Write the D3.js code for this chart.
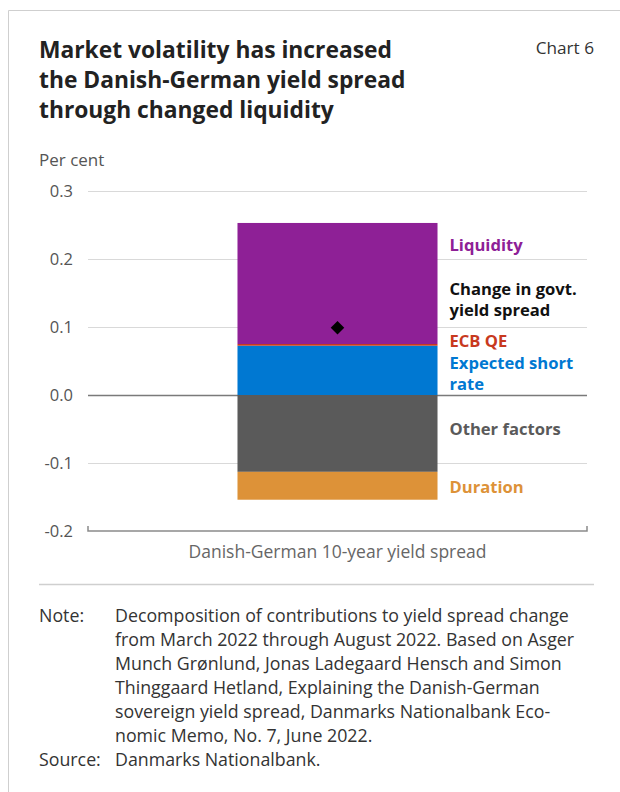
<!DOCTYPE html>
<html>
<head>
<meta charset="utf-8">
<script src="https://cdn.jsdelivr.net/npm/d3@7"></script>
<style>
  html, body { margin: 0; padding: 0; background: #fff; }
  svg { display: block; font-family: "Open Sans", "Noto Sans", sans-serif; }
</style>
</head>
<body>
<svg id="chart" width="620" height="792"></svg>
<script>
// Contributions to the change in the Danish-German 10-year yield spread (percentage points)
const categories = ["Danish-German 10-year yield spread"];
const seriesNames = ["Expected short rate", "ECB QE", "Liquidity", "Other factors", "Duration"];
const expectedShortRate = [0.0725];
const ecbQE = [0.0025];
const liquidity = [0.178];
const otherFactors = [-0.113];
const duration = [-0.041];
const spreadChange = [0.099];
const yTicks = [-0.2, -0.1, 0.0, 0.1, 0.2, 0.3];
const noteLines = [
  "Decomposition of contributions to yield spread change",
  "from March 2022 through August 2022. Based on Asger",
  "Munch Grønlund, Jonas Ladegaard Hensch and Simon",
  "Thinggaard Hetland, Explaining the Danish-German",
  "sovereign yield spread, Danmarks Nationalbank Eco-",
  "nomic Memo, No. 7, June 2022."
];
const sourceText = "Danmarks Nationalbank.";

const colors = {
  "Liquidity": "#8e2096",
  "ECB QE": "#c8391e",
  "Expected short rate": "#0078d2",
  "Other factors": "#5a5a5a",
  "Duration": "#dd9238"
};

const svg = d3.select("#chart");

// Card frame
svg.append("line").attr("x1", 8.5).attr("x2", 620).attr("y1", 10.5).attr("y2", 10.5)
  .attr("stroke", "#cfcfcf").attr("stroke-width", 1);
svg.append("line").attr("x1", 8.5).attr("x2", 8.5).attr("y1", 10.5).attr("y2", 792)
  .attr("stroke", "#cfcfcf").attr("stroke-width", 1);

// Title block
const title = ["Market volatility has increased", "the Danish-German yield spread", "through changed liquidity"];
svg.append("g").selectAll("text").data(title).join("text")
  .attr("x", 39).attr("y", (d, i) => 58 + i * 30)
  .attr("font-size", 22.8).attr("font-weight", 700).attr("fill", "#222")
  .text(d => d);
svg.append("text").attr("x", 594).attr("y", 54).attr("text-anchor", "end")
  .attr("font-size", 17.2).attr("fill", "#333").text("Chart 6");

// Scales
const margin = { left: 88, right: 587, top: 191, bottom: 531 };
const y = d3.scaleLinear().domain([-0.2, 0.3]).range([margin.bottom, margin.top]);
const x = d3.scaleBand().domain(categories).range([margin.left, margin.right])
  .paddingInner(0.4277).paddingOuter(0.4277);

svg.append("text").attr("x", 39).attr("y", 166).attr("font-size", 17).attr("fill", "#555")
  .text("Per cent");

// Gridlines and tick labels
const yAxis = d3.axisLeft(y).tickValues(yTicks).tickFormat(d3.format(".1f"))
  .tickSize(-(margin.right - margin.left)).tickPadding(15);
const gy = svg.append("g").attr("transform", `translate(${margin.left},0)`).call(yAxis);
gy.select(".domain").remove();
gy.selectAll(".tick line").attr("stroke", d => d === 0 ? "#7a7a7a" : "#d9d9d9")
  .attr("stroke-width", d => d === 0 ? 1.5 : 1.2)
  .attr("opacity", d => d === -0.2 ? 0 : 1);
gy.selectAll(".tick text").attr("font-size", 16.5).attr("fill", "#555")
  .attr("font-family", "'Open Sans', 'Noto Sans', sans-serif")
  .text(d => d3.format(".1f")(d).replace("−", "-"));

// Category axis at the bottom
const xAxis = d3.axisBottom(x).tickSize(0).tickPadding(15);
const gx = svg.append("g").attr("transform", `translate(0,${y(-0.2)})`).call(xAxis);
gx.select(".domain").attr("stroke", "#8a8a8a").attr("stroke-width", 1.5)
  .attr("d", `M${margin.left},-5V0H${margin.right}V-5`);
gx.selectAll(".tick text").attr("font-size", 17.5).attr("fill", "#666")
  .attr("font-family", "'Open Sans', 'Noto Sans', sans-serif");

// Stacked contributions
const table = categories.map((c, i) => ({
  category: c,
  "Expected short rate": expectedShortRate[i],
  "ECB QE": ecbQE[i],
  "Liquidity": liquidity[i],
  "Other factors": otherFactors[i],
  "Duration": duration[i]
}));
const stacked = d3.stack().keys(seriesNames).offset(d3.stackOffsetDiverging)(table);

svg.append("g").selectAll("g").data(stacked).join("g")
  .attr("fill", d => colors[d.key])
  .selectAll("rect").data(d => d).join("rect")
  .attr("x", d => x(d.data.category))
  .attr("width", x.bandwidth())
  .attr("y", d => y(d[1]))
  .attr("height", d => y(d[0]) - y(d[1]));

// Total change marker
const cx = x(categories[0]) + x.bandwidth() / 2;
svg.append("g").selectAll("path").data(spreadChange).join("path")
  .attr("d", d3.symbol(d3.symbolSquare, 92))
  .attr("transform", d => `translate(${cx},${y(d)}) rotate(45)`)
  .attr("fill", "#000");

// Series labels to the right of the bar
const labelX = x(categories[0]) + x.bandwidth() + 12;
const labels = [
  { lines: ["Liquidity"], color: colors["Liquidity"], at: 0.2206 },
  { lines: ["Change in govt.", "yield spread"], color: "#111", at: 0.141 },
  { lines: ["ECB QE"], color: colors["ECB QE"], at: 0.0794 },
  { lines: ["Expected short", "rate"], color: colors["Expected short rate"], at: 0.0316 },
  { lines: ["Other factors"], color: colors["Other factors"], at: -0.050 },
  { lines: ["Duration"], color: colors["Duration"], at: -0.1353 }
];
const lg = svg.append("g").attr("font-size", 16.6).attr("font-weight", 700);
labels.forEach(l => {
  const t = lg.append("text").attr("x", labelX).attr("fill", l.color);
  l.lines.forEach((s, i) => {
    t.append("tspan").attr("x", labelX)
      .attr("y", y(l.at) + 6 + (i - (l.lines.length - 1) / 2) * 21)
      .text(s);
  });
});

// Separator and notes
svg.append("line").attr("x1", 39).attr("x2", 594).attr("y1", 584.5).attr("y2", 584.5)
  .attr("stroke", "#cfcfcf").attr("stroke-width", 1.5);

const notes = svg.append("g").attr("font-size", 17.8).attr("fill", "#333");
notes.append("text").attr("x", 39).attr("y", 622).text("Note:");
notes.selectAll("text.line").data(noteLines).join("text").attr("class", "line")
  .attr("x", 115).attr("y", (d, i) => 622 + i * 24).text(d => d);
notes.append("text").attr("x", 39).attr("y", 622 + noteLines.length * 24).text("Source:");
notes.append("text").attr("x", 115).attr("y", 622 + noteLines.length * 24).text(sourceText);
</script>
</body>
</html>
